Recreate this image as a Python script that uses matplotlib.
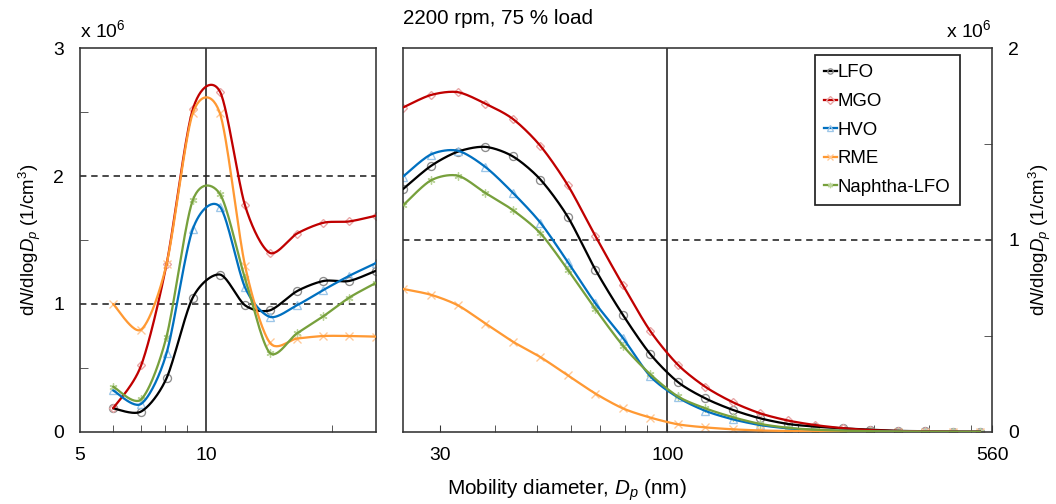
import matplotlib
matplotlib.use('Agg')
import matplotlib.pyplot as plt
from matplotlib.lines import Line2D
from matplotlib.ticker import FixedLocator, NullFormatter
import numpy as np

plt.rcParams['font.family'] = 'Liberation Sans'
plt.rcParams['mathtext.fontset'] = 'custom'
plt.rcParams['mathtext.rm'] = 'Liberation Sans'
plt.rcParams['mathtext.it'] = 'Liberation Sans:italic'

# number concentrations in units of 1e6 1/cm3
left_dp = [6.0, 7.0, 8.05, 9.3, 10.8, 12.4, 14.2, 16.5, 19.1, 22.0, 25.5]
lfo_left = [0.185, 0.16, 0.42, 1.05, 1.23, 0.99, 0.95, 1.10, 1.18, 1.18, 1.26]
mgo_left = [0.185, 0.52, 1.31, 2.52, 2.66, 1.77, 1.40, 1.55, 1.635, 1.645, 1.69]
hvo_left = [0.325, 0.22, 0.615, 1.585, 1.76, 1.13, 0.90, 0.99, 1.11, 1.22, 1.32]
rme_left = [1.0, 0.80, 1.31, 2.49, 2.49, 1.30, 0.70, 0.73, 0.75, 0.75, 0.745]
nap_left = [0.355, 0.255, 0.745, 1.81, 1.86, 1.20, 0.62, 0.77, 0.905, 1.05, 1.165]

right_dp = [24.6, 28.5, 32.9, 38.1, 44.1, 51.0, 59.0, 68.3, 79.0, 91.4, 105.8,
            122.4, 141.6, 163.8, 189.5, 219.3, 253.7, 293.5, 339.6, 392.9, 454.6, 525.9]
lfo_right = [1.265, 1.385, 1.46, 1.485, 1.435, 1.315, 1.12, 0.845, 0.61, 0.405, 0.26,
             0.175, 0.115, 0.071, 0.042, 0.028, 0.019, 0.012, 0.006, 0.004, 0.002, 0.002]
mgo_right = [1.69, 1.755, 1.77, 1.71, 1.63, 1.49, 1.285, 1.02, 0.765, 0.525, 0.35,
             0.235, 0.155, 0.097, 0.06, 0.036, 0.02, 0.01, 0.005, 0.003, 0.002, 0.002]
hvo_right = [1.33, 1.445, 1.465, 1.38, 1.245, 1.09, 0.885, 0.67, 0.49, 0.29, 0.18,
             0.11, 0.066, 0.036, 0.019, 0.01, 0.006, 0.004, 0.002, 0.001, 0.001, 0.001]
rme_right = [0.745, 0.715, 0.66, 0.565, 0.47, 0.39, 0.295, 0.2, 0.123, 0.075, 0.04,
             0.024, 0.014, 0.008, 0.005, 0.003, 0.002, 0.001, 0.001, 0.001, 0.0, 0.0]
nap_right = [1.18, 1.31, 1.335, 1.245, 1.155, 1.035, 0.845, 0.64, 0.45, 0.30, 0.185,
             0.123, 0.077, 0.042, 0.022, 0.012, 0.007, 0.004, 0.002, 0.001, 0.001, 0.001]

names = ['LFO', 'MGO', 'HVO', 'RME', 'Naphtha-LFO']
colors = ['#000000', '#C00000', '#0070C0', '#FF9933', '#77A03C']
mcolors = ['#8C8C8C', '#E8A5A5', '#9CC6E8', '#FFC896', '#BBD49A']
markers = ['o', 'D', '^', 'x', (6, 2, 0)]
msizes = [6, 4.5, 5.5, 6, 6]


def smooth(x, y, n=30, s=0.42):
    # Excel-like smoothed line (cardinal spline in log-x screen space)
    p = np.column_stack([np.log10(x), y])
    p = np.vstack([p[0], p, p[-1]])
    t = np.linspace(0, 1, n)[:, None]
    h00 = 2 * t ** 3 - 3 * t ** 2 + 1
    h10 = t ** 3 - 2 * t ** 2 + t
    h01 = -2 * t ** 3 + 3 * t ** 2
    h11 = t ** 3 - t ** 2
    segs = []
    for i in range(1, len(p) - 2):
        m1 = s * (p[i + 1] - p[i - 1])
        m2 = s * (p[i + 2] - p[i])
        segs.append(h00 * p[i] + h10 * m1 + h01 * p[i + 1] + h11 * m2)
    c = np.vstack(segs)
    return 10 ** c[:, 0], c[:, 1]


fig = plt.figure(figsize=(11, 5.25), dpi=96)
W, H = 1056, 504
axl = fig.add_axes([80 / W, (H - 432) / H, (376 - 80) / W, 384 / H])
axr = fig.add_axes([403 / W, (H - 432) / H, (992 - 403) / W, 384 / H])

left_series = [lfo_left, mgo_left, hvo_left, rme_left, nap_left]
right_series = [lfo_right, mgo_right, hvo_right, rme_right, nap_right]

for ax, dp, series in [(axl, left_dp, left_series), (axr, right_dp, right_series)]:
    ax.set_xscale('log')
    for ys, c, mc, m, ms in zip(series, colors, mcolors, markers, msizes):
        ax.plot(dp, ys, ls='none', marker=m, ms=ms, mfc='none', mec=mc,
                mew=1.0, zorder=2)
        sx, sy = smooth(dp, ys)
        ax.plot(sx, sy, color=c, lw=1.7, zorder=3, solid_capstyle='round')
    for sp in ax.spines.values():
        sp.set_color('#333333')
        sp.set_linewidth(1.2)
    ax.tick_params(which='both', direction='in', labelsize=14.5, color='#333333')
    ax.tick_params(axis='x', which='both', length=5, pad=11)

axl.set_xlim(5, 25.5)
axl.set_ylim(0, 3)
axl.axvline(10, color='#222222', lw=1.2, zorder=1)
for yv in [1, 2]:
    axl.axhline(yv, color='#222222', lw=1.2, ls=(0, (4, 3)), zorder=1)
axl.xaxis.set_major_locator(FixedLocator([5, 10]))
axl.xaxis.set_minor_locator(FixedLocator([6, 7, 8, 9, 20]))
axl.set_xticklabels(['5', '10'])
axl.xaxis.set_minor_formatter(NullFormatter())
axl.yaxis.set_major_locator(FixedLocator([0, 1, 2, 3]))
axl.yaxis.set_minor_locator(FixedLocator([0.5, 1.5, 2.5]))
axl.tick_params(axis='y', which='major', length=0, pad=12)
axl.tick_params(axis='y', which='minor', length=6)
axl.tick_params(axis='x', which='major', bottom=False, labelbottom=True)

axr.set_xlim(24.6, 560)
axr.set_ylim(0, 2)
axr.axvline(100, color='#222222', lw=1.2, zorder=1)
axr.axhline(1, color='#222222', lw=1.2, ls=(0, (4, 3)), zorder=1)
axr.xaxis.set_major_locator(FixedLocator([30, 100, 560]))
axr.set_xticklabels(['30', '100', '560'])
axr.xaxis.set_minor_locator(FixedLocator([40, 50, 60, 70, 80, 90, 200, 300, 400, 500]))
axr.xaxis.set_minor_formatter(NullFormatter())
axr.yaxis.tick_right()
axr.yaxis.set_major_locator(FixedLocator([0, 1, 2]))
axr.yaxis.set_minor_locator(FixedLocator([0.5, 1.5]))
axr.tick_params(axis='y', which='major', length=0, pad=12)
axr.tick_params(axis='y', which='minor', length=6)

handles = [Line2D([], [], color=c, lw=1.7, marker=m, ms=4, mfc='none', mec=mc)
           for c, mc, m in zip(colors, mcolors, markers)]
leg = axr.legend(handles, names, loc='upper right',
                 bbox_to_anchor=((960 - 403) / 589, (432 - 55) / 384),
                 fontsize=14, handlelength=0.7, handletextpad=0.05,
                 labelspacing=0.62, borderpad=0.5, fancybox=False,
                 framealpha=1, borderaxespad=0)
leg.get_frame().set_edgecolor('#222222')
leg.get_frame().set_linewidth(1.3)

ylab = r'd$N$/dlog$D_p$ (1/cm$^3$)'
fig.text(30 / W, (H - 240) / H, ylab, rotation=90, ha='center', va='center', fontsize=14)
fig.text(1040 / W, (H - 240) / H, ylab, rotation=90, ha='center', va='center', fontsize=14)
fig.text(80 / W, (H - 37) / H, r'x 10$^{6}$', ha='left', va='baseline', fontsize=14.5)
fig.text(992 / W, (H - 37) / H, r'x 10$^{6}$', ha='right', va='baseline', fontsize=14.5)
fig.text(403 / W, (H - 18) / H, '2200 rpm, 75 % load', ha='left', va='center', fontsize=15.5)
fig.text(567 / W, (H - 490) / H, r'Mobility diameter, $D_p$ (nm)', ha='center',
         va='center', fontsize=15.5)

fig.savefig('out.png', dpi=96)
